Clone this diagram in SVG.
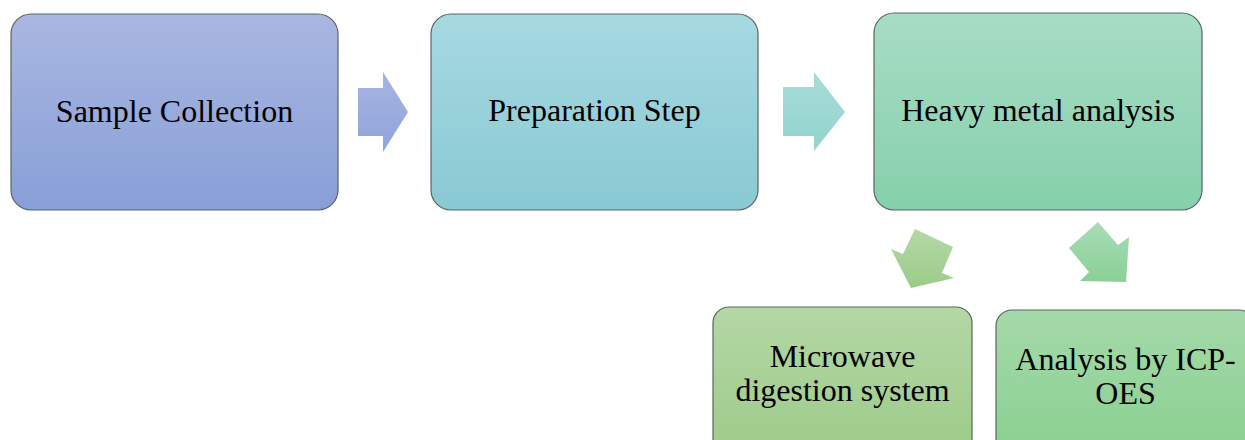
<svg xmlns="http://www.w3.org/2000/svg" width="1245" height="440" viewBox="0 0 1245 440">
<style>
.box{stroke:#5a6464;stroke-width:1.2}
.lbl{font-family:"Liberation Serif","Times New Roman",serif;font-size:32px;fill:#000;text-anchor:middle}
</style>
<defs>
<linearGradient id="g1" x1="0" y1="0" x2="0" y2="1"><stop offset="0" stop-color="#a9b7e1"/><stop offset="1" stop-color="#889fd7"/></linearGradient>
<linearGradient id="g2" x1="0" y1="0" x2="0" y2="1"><stop offset="0" stop-color="#a7d9e1"/><stop offset="1" stop-color="#89c9d3"/></linearGradient>
<linearGradient id="g3" x1="0" y1="0" x2="0" y2="1"><stop offset="0" stop-color="#a8dcc5"/><stop offset="1" stop-color="#85d0ab"/></linearGradient>
<linearGradient id="g4" x1="0" y1="0" x2="0" y2="1"><stop offset="0" stop-color="#b4d7a5"/><stop offset="1" stop-color="#9bca87"/></linearGradient>
<linearGradient id="g5" x1="0" y1="0" x2="0" y2="1"><stop offset="0" stop-color="#a5d9aa"/><stop offset="1" stop-color="#87cf8d"/></linearGradient>
<linearGradient id="a1" x1="0" y1="0" x2="0" y2="1"><stop offset="0" stop-color="#a6b4e1"/><stop offset="1" stop-color="#90a4db"/></linearGradient>
<linearGradient id="a2" x1="0" y1="0" x2="0" y2="1"><stop offset="0" stop-color="#a9dcd9"/><stop offset="1" stop-color="#92d4cd"/></linearGradient>
<linearGradient id="a3" x1="0" y1="0" x2="0" y2="1"><stop offset="0" stop-color="#b4d8a6"/><stop offset="1" stop-color="#9bcc88"/></linearGradient>
<linearGradient id="a4" x1="0" y1="0" x2="0" y2="1"><stop offset="0" stop-color="#a8dcb6"/><stop offset="1" stop-color="#8ad097"/></linearGradient>
</defs>
<rect width="1245" height="440" fill="#fff"/>
<g id="connectors">
<polygon points="358,88 383,88 383,72 408,112 383,152 383,136 358,136" fill="url(#a1)"/>
<polygon points="783,87 814,87 814,72 845,112 814,151 814,136 783,136" fill="url(#a2)"/>
<polygon points="915,229 953,247 942,273 954,278 911,288 891,249 903,254" fill="url(#a3)"/>
<polygon points="1098,222 1118,245 1129,237 1126,282 1080,281 1089,272 1069,248" fill="url(#a4)"/>
</g>
<g id="sample-collection">
<rect class="box" x="11" y="14" width="327" height="196" rx="20" fill="url(#g1)"/>
<text class="lbl" x="174.5" y="122">Sample Collection</text>
</g>
<g id="preparation-step">
<rect class="box" x="431" y="14" width="327" height="196" rx="20" fill="url(#g2)"/>
<text class="lbl" x="594.5" y="121">Preparation Step</text>
</g>
<g id="heavy-metal-analysis">
<rect class="box" x="874" y="13" width="328" height="197" rx="20" fill="url(#g3)"/>
<text class="lbl" x="1038" y="121">Heavy metal analysis</text>
</g>
<g id="microwave-digestion">
<rect class="box" x="713" y="307" width="259" height="160" rx="16" fill="url(#g4)"/>
<text class="lbl" x="842.5" y="367">Microwave</text>
<text class="lbl" x="842.5" y="401">digestion system</text>
</g>
<g id="icp-oes">
<rect class="box" x="996" y="310" width="259" height="160" rx="16" fill="url(#g5)"/>
<text class="lbl" x="1125.5" y="370">Analysis by ICP-</text>
<text class="lbl" x="1125.5" y="404">OES</text>
</g>
</svg>
